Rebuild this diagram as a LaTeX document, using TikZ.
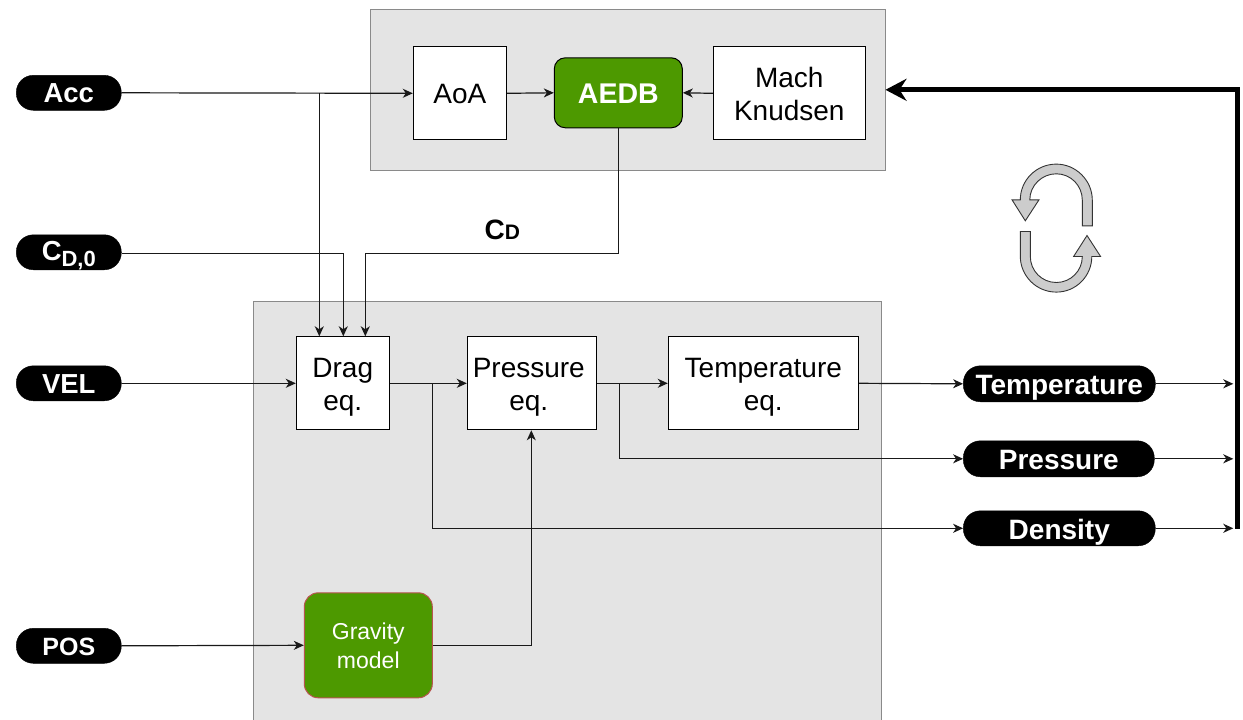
\documentclass[tikz,border=0pt]{standalone}
\usepackage{fontspec}
\setmainfont{Liberation Sans}
\usetikzlibrary{arrows.meta,calc}
\definecolor{panelgray}{HTML}{E4E4E4}
\definecolor{paneledge}{HTML}{8A8A8A}
\definecolor{aegreen}{HTML}{4D9900}
\definecolor{gravedge}{HTML}{B85450}
\definecolor{loopgray}{HTML}{CCCCCC}
\newcommand{\fs}[2][33]{\fontsize{#2}{#1}\selectfont}
\newcommand{\dn}[2][3.9]{\raisebox{-#1pt}[\height][\depth]{\begin{tabular}{@{}c@{}}#2\end{tabular}}}
\tikzset{
  x=1pt,y=-1pt,
  panel/.style={draw=paneledge,fill=panelgray,line width=1pt,anchor=north west,inner sep=0pt},
  block/.style={draw=black,fill=white,line width=1pt,align=center,font=\fs{28},inner sep=0pt},
  pill/.style={draw=black,fill=black,text=white,rounded corners=17pt,font=\bfseries\fs{28},inner sep=0pt},
  greenbox/.style={draw=black,fill=aegreen,text=white,rounded corners=11pt,line width=1pt,inner sep=0pt,align=center},
  conn/.style={draw=black!90,line width=1.2pt,-{Stealth[length=10pt,width=9pt,inset=3pt]}},
  feedback/.style={draw=black,line width=5pt,-{Stealth[length=21pt,width=22pt,inset=7pt]}},
  loopshape/.style={draw=black!80,fill=loopgray,line width=0.9pt},
}
\begin{document}
\begin{tikzpicture}
\useasboundingbox (-0.3,0.2) rectangle (1242.7,720.2);
\node[panel,minimum width=515pt,minimum height=161pt] (top) at (369.2,9.1) {};
\node[panel,minimum width=628pt,minimum height=424pt] (bottom) at (252.2,301.6) {};
\node[block,minimum width=93pt,minimum height=93pt] (aoa) at (459.5,93.5) {\dn{AoA}};
\node[greenbox,minimum width=128pt,minimum height=70pt,font=\bfseries\fs{28.5}] (aedb) at (618,93) {\dn[4]{AEDB}};
\node[block,minimum width=152pt,minimum height=93pt] (mach) at (789,93.5) {\dn{Mach\\Knudsen}};
\node[pill,minimum width=105pt,minimum height=35pt,font=\bfseries\fs{27.5}] (acc) at (68.5,93) {\dn[2.9]{Acc}};
\node[pill,minimum width=105pt,minimum height=35pt,font=\bfseries\fs{27.5}] (cd0) at (68.5,252.5) {\raisebox{-3.3pt}[\height][\depth]{C\raisebox{-6pt}{\fs{22}D,0}}};
\node[pill,minimum width=105pt,minimum height=35pt,font=\bfseries\fs{27.5}] (vel) at (68.5,383.5) {\dn[4]{VEL}};
\node[pill,minimum width=105pt,minimum height=35pt,font=\bfseries\fs{25}] (pos) at (68.5,646) {\dn[3]{POS}};
\node[block,minimum width=93pt,minimum height=93pt] (drag) at (342.5,383.5) {\dn{Drag\\eq.}};
\node[block,minimum width=129pt,minimum height=93pt] (press) at (531.5,383.5) {\hspace*{-6pt}\dn{Pressure\\eq.}};
\node[block,minimum width=190pt,minimum height=93pt] (temp) at (763,383.5) {\dn{Temperature\\eq.}};
\node[greenbox,draw=gravedge,minimum width=128pt,minimum height=105pt,font={\fs[29]{23}},rounded corners=14pt] (grav) at (368,645.5) {Gravity\\model};
\node[pill,minimum width=192pt,minimum height=36pt] (tout) at (1059,384) {\dn[4]{Temperature}};
\node[pill,minimum width=191pt,minimum height=36pt] (pout) at (1058.5,459) {\dn[4.1]{Pressure}};
\node[pill,minimum width=192pt,minimum height=35pt] (dout) at (1059,528.5) {\dn[5]{Density}};
\node[font=\bfseries] (cdlabel) at (502,230) {\fs{28}C\fs{21}D};

\coordinate (ja) at (319,93);
\coordinate (jb) at (432,383.5);
\coordinate (jc) at (619,383.5);
\coordinate (jd) at (343,254);
\coordinate (je) at (618,254);
\coordinate (jf) at (365,254);
\coordinate (jg) at (531,646);
\coordinate (et) at (1233,384);
\coordinate (ep) at (1233,459);
\coordinate (ed) at (1233,528.5);
\coordinate (fbs) at (1237,529);
\coordinate (fbc) at (1237,90);

\draw[conn] (acc.east) -- (aoa.west);
\draw[conn] (aoa.east) -- (aedb.west);
\draw[conn] (mach.west) -- (aedb.east);
\draw[conn] (ja) -- (ja |- drag.north);
\draw[conn] (cd0.east |- jd) -- (jd) -- (jd |- drag.north);
\draw[conn] (je |- aedb.south) -- (je) -- (jf) -- (jf |- drag.north);
\draw[conn] (vel.east) -- (drag.west);
\draw[conn] (drag.east) -- (press.west);
\draw[conn] (press.east) -- (temp.west);
\draw[conn] (temp.east) -- (tout.west);
\draw[conn] (jc) |- (pout.west);
\draw[conn] (jb) |- (dout.west);
\draw[conn] (pos.east) -- (grav.west);
\draw[conn] (grav.east |- jg) -- (jg) -- (jg |- press.south);
\draw[conn] (tout.east) -- (et);
\draw[conn] (pout.east) -- (ep);
\draw[conn] (dout.east) -- (ed);
\draw[feedback] (fbs) -- (fbc) -- (top.east |- fbc);

\draw[loopshape] (1082,226) -- (1092,226) -- (1092,200.3) .. controls (1092,180.4) and (1075.4,164.3) .. (1056,164.3) .. controls (1036,164.3) and (1020,180.4) .. (1020,200) -- (1011.7,200) -- (1025,221) -- (1038.7,200) -- (1029.5,200) .. controls (1029.5,185.8) and (1041.5,174) .. (1056,174) .. controls (1070.5,174) and (1082,185.8) .. (1082,200.3) -- cycle;
\draw[loopshape] (1020,231.7) -- (1030,231.7) -- (1030,256.5) .. controls (1030,271) and (1041.5,282.7) .. (1056,282.7) .. controls (1070.5,282.7) and (1082,271) .. (1082,256.7) -- (1073.3,256.7) -- (1086.7,235.7) -- (1100.3,256.7) -- (1091.5,256.7) .. controls (1091.5,276) and (1076,292.3) .. (1056,292.3) .. controls (1036,292.3) and (1020,276) .. (1020,256.5) -- cycle;
\end{tikzpicture}
\end{document}
